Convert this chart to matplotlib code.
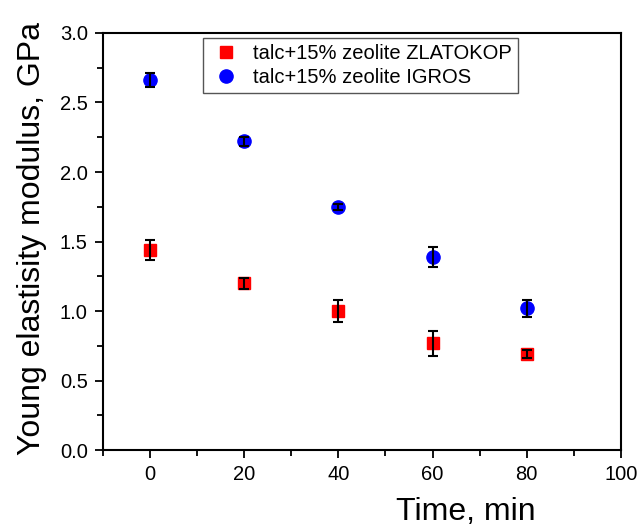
import numpy as np
import matplotlib.pyplot as plt
from matplotlib.ticker import MultipleLocator

plt.rcParams['font.family'] = ['Liberation Sans', 'DejaVu Sans']

time_min = [0, 20, 40, 60, 80]

zlatokop = [1.44, 1.20, 1.00, 0.77, 0.69]
zlatokop_err = [0.07, 0.04, 0.08, 0.09, 0.03]

igros = [2.66, 2.22, 1.75, 1.39, 1.02]
igros_err = [0.05, 0.03, 0.02, 0.07, 0.06]

labels = ['talc+15% zeolite ZLATOKOP', 'talc+15% zeolite IGROS']

fig = plt.figure(figsize=(6.4, 5.32), dpi=100)
ax = fig.add_axes([0.161, 0.154, 0.809, 0.784])

# markers first, error bars drawn on top of them
ax.plot(time_min, zlatokop, 's', color='#ff0000', ms=8.5, mec='#ff0000',
        label=labels[0], zorder=2)
ax.plot(time_min, igros, 'o', color='#0000ff', ms=9.5, mec='#0000ff',
        label=labels[1], zorder=2)
ax.errorbar(time_min, zlatokop, yerr=zlatokop_err, fmt='none', ecolor='black',
            elinewidth=1.5, capsize=3.6, capthick=1.5, zorder=3)
ax.errorbar(time_min, igros, yerr=igros_err, fmt='none', ecolor='black',
            elinewidth=1.5, capsize=3.6, capthick=1.5, zorder=3)

ax.set_xlim(-10, 100)
ax.set_ylim(0, 3.0)
ax.xaxis.set_major_locator(MultipleLocator(20))
ax.xaxis.set_minor_locator(MultipleLocator(10))
ax.yaxis.set_major_locator(MultipleLocator(0.5))
ax.yaxis.set_minor_locator(MultipleLocator(0.25))
ax.yaxis.set_major_formatter(plt.FormatStrFormatter('%.1f'))

ax.tick_params(which='both', direction='out', width=1.3, top=False, right=False,
               labelsize=14.5, colors='black', pad=5)
ax.tick_params(which='major', length=6)
ax.tick_params(which='minor', length=4)
for s in ax.spines.values():
    s.set_linewidth(1.5)

ax.set_xlabel('Time, min', fontsize=23)
ax.xaxis.set_label_coords(0.70, -0.112)
ax.set_ylabel('Young elastisity modulus, GPa', fontsize=23)
ax.yaxis.set_label_coords(-0.108, 0.508)

leg = ax.legend(loc='upper left', bbox_to_anchor=(0.193, 0.988), fontsize=14.5,
                frameon=True, fancybox=False, framealpha=1, edgecolor='#555555',
                borderaxespad=0, handletextpad=0.55, borderpad=0.32,
                labelspacing=0.22, handlelength=1.6)
leg.get_frame().set_linewidth(1.0)

plt.savefig('out.png', dpi=100)
